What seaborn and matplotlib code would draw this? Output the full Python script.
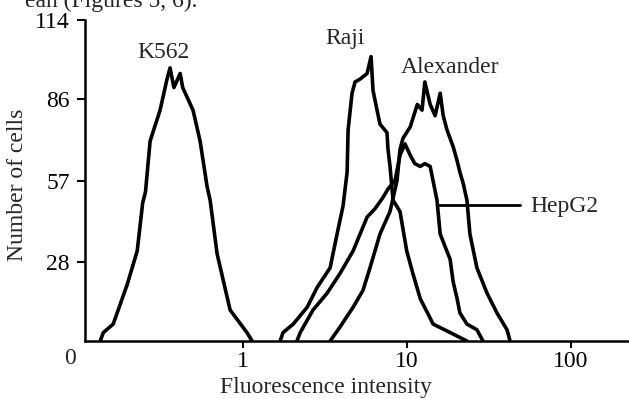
import pandas as pd
import matplotlib
matplotlib.use("Agg")
import matplotlib.pyplot as plt
import seaborn as sns

# Histogram outlines (fluorescence intensity, number of cells)
k562_x = [0.135, 0.141, 0.162, 0.197, 0.227, 0.245, 0.255, 0.272, 0.313, 0.345, 0.36,
          0.38, 0.415, 0.43, 0.497, 0.549, 0.605, 0.632, 0.697, 0.837, 1.06, 1.14]
k562_y = [0, 3, 6, 20, 32, 49, 53, 71, 82, 93, 97, 90, 95, 90, 82, 71, 55, 50, 31, 11, 3, 0]

raji_x = [1.69, 1.76, 2.03, 2.47, 2.84, 3.41, 3.76, 4.09, 4.33, 4.39, 4.64, 4.84, 5.19,
          5.73, 6.06, 6.23, 6.59, 6.87, 7.58, 7.69, 7.91, 8.25, 9.10, 10.0, 10.9, 12.1,
          14.5, 18.4, 23.3]
raji_y = [0, 3, 6, 12, 19, 26, 38, 48, 60, 75, 88, 92, 93, 95, 101, 89, 82, 77, 74, 68,
          62, 50, 46, 32, 24, 15, 6, 3, 0]

hepg2_x = [2.14, 2.24, 2.68, 3.27, 3.92, 4.71, 5.73, 6.41, 7.17, 7.69, 8.49, 9.10, 9.76,
           10.5, 11.2, 12.1, 12.9, 13.9, 14.7, 15.3, 16.0, 18.4, 19.2, 20.3, 21.1, 23.3,
           26.8, 29.2]
hepg2_y = [0, 3, 11, 17, 24, 32, 44, 47, 51, 54, 57, 66, 70, 66, 63, 62, 63, 62, 55, 50,
           38, 29, 21, 15, 10, 6, 4, 0]

alexander_x = [3.41, 3.92, 4.71, 5.41, 5.97, 6.87, 7.91, 8.73, 9.10, 9.49, 10.5, 11.6,
               12.4, 12.9, 13.9, 14.9, 16.0, 16.7, 17.6, 19.2, 20.3, 21.1, 22.1, 23.3,
               24.3, 26.8, 30.9, 35.5, 40.9, 42.7]
alexander_y = [0, 5, 12, 18, 26, 38, 46, 57, 68, 72, 76, 84, 82, 92, 84, 80, 88, 80, 75,
               69, 64, 60, 56, 50, 38, 26, 17, 10, 4, 0]

x_ticks = [1, 10, 100]
x_tick_labels = ["1", "10", "100"]
y_ticks = [28, 57, 86, 114]

frames = []
for name, xs, ys in [("K562", k562_x, k562_y), ("Raji", raji_x, raji_y),
                     ("HepG2", hepg2_x, hepg2_y), ("Alexander", alexander_x, alexander_y)]:
    frames.append(pd.DataFrame({"intensity": xs, "cells": ys, "line": name}))
df = pd.concat(frames, ignore_index=True)

sns.set_style("ticks")
plt.rcParams["font.family"] = ["Liberation Serif", "DejaVu Serif"]
plt.rcParams["font.size"] = 17

fig = plt.figure(figsize=(6.29, 3.99), dpi=100)
ax = fig.add_axes([85 / 629, 1 - 341 / 399, 544 / 629, 321 / 399])

sns.lineplot(data=df, x="intensity", y="cells", units="line", estimator=None,
             sort=False, color="black", linewidth=2.6, ax=ax)

ax.set_xscale("log")
ax.set_xlim(0.109, 227)
ax.set_ylim(0, 114)
ax.set_xticks(x_ticks)
ax.set_xticklabels(x_tick_labels)
ax.minorticks_off()
ax.set_yticks(y_ticks)
ax.tick_params(axis="both", direction="out", width=1.5, colors="black", labelsize=17)
ax.tick_params(axis="x", length=5, pad=2)
ax.tick_params(axis="y", length=6, pad=5)
for side in ["top", "right"]:
    ax.spines[side].set_visible(False)
for side in ["left", "bottom"]:
    ax.spines[side].set_linewidth(1.8)
    ax.spines[side].set_color("black")

ax.set_xlabel("Fluorescence intensity", fontsize=17)
ax.xaxis.label.set_va("center")
ax.xaxis.set_label_coords((326 - 85) / 544, (341 - 387) / 321)
ax.set_ylabel("Number of cells", fontsize=17)
ax.yaxis.label.set_va("center")
ax.yaxis.set_label_coords((18 - 85) / 544, (341 - 185) / 321)

# origin label
ax.text(-15 / 544, -18 / 321, "0", transform=ax.transAxes, ha="center", va="center",
        fontsize=17)

# curve labels
ax.text(0.327, 102.6, "K562", ha="center", va="center", fontsize=17)
ax.text(4.2, 107.6, "Raji", ha="center", va="center", fontsize=17)
ax.text(18.4, 97.3, "Alexander", ha="center", va="center", fontsize=17)
ax.text(56.5, 47.6, "HepG2", ha="left", va="center", fontsize=17)
ax.plot([15.3, 49.0], [48.3, 48.3], color="black", linewidth=2)

# clipped caption text from the page above the figure
fig.text(197 / 629, 1 - 7 / 399, "ean (Figures 5, 6).", ha="right", va="baseline",
         fontsize=17)

fig.savefig("out.png", dpi=100)
